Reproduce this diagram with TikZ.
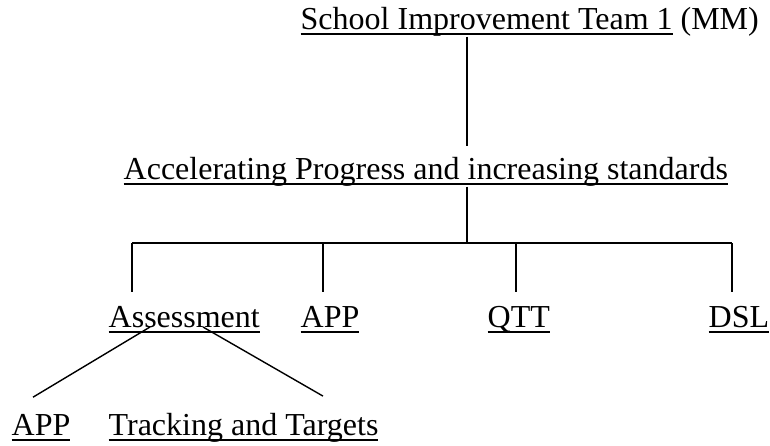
\documentclass[tikz,border=0pt]{standalone}
\usepackage{fontspec}
\setmainfont{Liberation Serif}
\usepackage{tikz}
\usetikzlibrary{positioning}

% fixed underline, as a word processor draws it
\newcommand{\undl}[1]{\setbox0=\hbox{#1}\rlap{\rule[-6pt]{\wd0}{1.6pt}}\box0\relax}

\begin{document}
\begin{tikzpicture}[x=1pt,y=-1pt,line width=1.4pt,
    lbl/.style={inner sep=0pt,anchor=base west,font=\fontsize{32}{38}\selectfont},
    drop/.style={shorten >=13pt}]
    \useasboundingbox (0,0) rectangle (770,445);

    % Team and aim
    \node[lbl] (team) at (300,29) {\undl{School Improvement Team 1} (MM)};
    \node[lbl] (goal) at (123,179) {\undl{Accelerating Progress and increasing standards}};

    % Strands
    \node[lbl] (assess) at (108,327) {\undl{Assessment}};
    \node[lbl] (app) at (300,327) {\undl{APP}};
    \node[lbl] (qtt) at (487,327) {\undl{QTT}};
    \node[lbl] (dsl) at (708,327) {\undl{DSL}};

    % Under assessment
    \node[lbl] (appsub) at (11,435) {\undl{APP}};
    \node[lbl] (track) at (108,435) {\undl{Tracking and Targets}};

    % Trunk
    \coordinate (trunk) at (467,243);
    \draw[shorten >=10pt] (team.south -| trunk) -- (goal.north -| trunk);
    \draw (goal.south -| trunk) -- (trunk);

    % Bar and drops
    \path (132,243) coordinate (fa) (323,243) coordinate (fb)
          (516,243) coordinate (fc) (732,243) coordinate (fd);
    \draw (fa) -- (fd);
    \draw[drop] (fa) -- (fa |- assess.north);
    \draw[drop] (fb) -- (fb |- app.north);
    \draw[drop] (fc) -- (fc |- qtt.north);
    \draw[drop] (fd) -- (fd |- dsl.north);

    % Assessment branches
    \draw ([xshift=42pt]assess.base west) -- ([xshift=22pt,yshift=16pt]appsub.north west);
    \draw ([xshift=95pt]assess.base west) -- ([xshift=215pt,yshift=16pt]track.north west);
\end{tikzpicture}
\end{document}
